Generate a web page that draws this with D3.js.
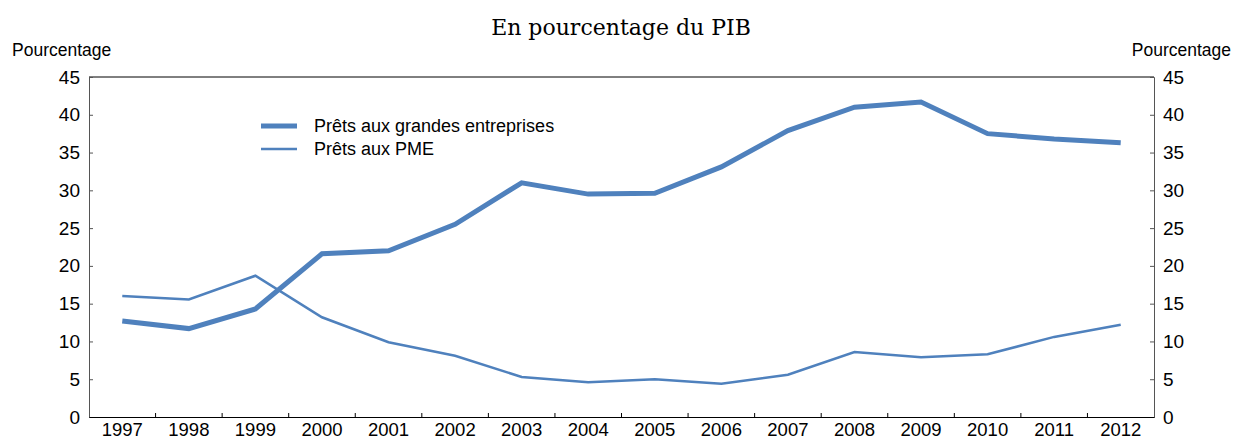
<!DOCTYPE html>
<html>
<head>
<meta charset="utf-8">
<script src="https://cdn.jsdelivr.net/npm/d3@7"></script>
<style>
  body { margin: 0; background: #fff; }
  svg text { font-family: "Liberation Sans", Arial, sans-serif; fill: #000; }
</style>
</head>
<body>
<svg id="chart" width="1233" height="441"></svg>
<script>
// data
var years = ["1997", "1998", "1999", "2000", "2001", "2002", "2003", "2004",
             "2005", "2006", "2007", "2008", "2009", "2010", "2011", "2012"];
var grandes = [12.7, 11.7, 14.3, 21.6, 22.0, 25.5, 31.0, 29.5,
               29.6, 33.1, 37.9, 41.0, 41.7, 37.5, 36.8, 36.3];
var pme = [16.0, 15.55, 18.7, 13.2, 9.9, 8.1, 5.3, 4.6,
           5.0, 4.4, 5.6, 8.6, 7.9, 8.3, 10.6, 12.2];
var yTicks = [0, 5, 10, 15, 20, 25, 30, 35, 40, 45];
var seriesNames = ["Prêts aux grandes entreprises", "Prêts aux PME"];

var blue = "#4f81bd";
var plotL = 89, plotR = 1154, plotT = 77, plotB = 417;

var svg = d3.select("#chart");

var x = d3.scaleBand().domain(years).range([plotL, plotR]);
var y = d3.scaleLinear().domain([0, 45]).range([plotB, plotT]);

// title
svg.append("text")
    .attr("x", 621).attr("y", 35)
    .attr("text-anchor", "middle")
    .style("font-family", "'DejaVu Serif', serif")
    .style("font-size", "22px")
    .text("En pourcentage du PIB");

svg.append("text").attr("x", 12).attr("y", 56)
    .style("font-size", "17.5px").text("Pourcentage");
svg.append("text").attr("x", 1231).attr("y", 56)
    .attr("text-anchor", "end")
    .style("font-size", "17.5px").text("Pourcentage");

// top border
svg.append("line")
    .attr("x1", plotL).attr("x2", plotR)
    .attr("y1", plotT).attr("y2", plotT)
    .attr("stroke", "#000").attr("stroke-width", 1);

// left axis
var yl = svg.append("g")
    .attr("transform", "translate(" + plotL + ",0)")
    .call(d3.axisRight(y).tickValues(yTicks).tickSize(4).tickFormat(d3.format("d")));
yl.selectAll("text").attr("x", -9).attr("text-anchor", "end")
    .style("font-size", "19px");

// right axis
var yr = svg.append("g")
    .attr("transform", "translate(" + plotR + ",0)")
    .call(d3.axisLeft(y).tickValues(yTicks).tickSize(4).tickFormat(d3.format("d")));
yr.selectAll("text").attr("x", 9).attr("text-anchor", "start")
    .style("font-size", "19px");

// bottom axis with ticks between categories
var xa = svg.append("g")
    .attr("transform", "translate(0," + plotB + ")")
    .call(d3.axisBottom(x).tickSize(0));
xa.selectAll("text").attr("y", 6).style("font-size", "18.5px");

var bounds = years.map(function (d) { return x(d); }).slice(1);
svg.selectAll(".xtick").data(bounds).enter().append("line")
    .attr("class", "xtick")
    .attr("x1", function (d) { return d; }).attr("x2", function (d) { return d; })
    .attr("y1", plotB).attr("y2", plotB - 4)
    .attr("stroke", "#000");

[yl, yr, xa].forEach(function (g) {
    g.selectAll("path, line").attr("stroke", "#555");
});
xa.select("path").attr("stroke", "#000");

var line = d3.line()
    .x(function (d, i) { return x(years[i]) + x.bandwidth() / 2; })
    .y(function (d) { return y(d); });

svg.append("path").datum(pme)
    .attr("d", line).attr("fill", "none")
    .attr("stroke", blue).attr("stroke-width", 2.5);

svg.append("path").datum(grandes)
    .attr("d", line).attr("fill", "none")
    .attr("stroke", blue).attr("stroke-width", 5);

// legend
var legend = svg.append("g");
var widths = [5, 2.5];
seriesNames.forEach(function (name, i) {
    var ly = 126 + i * 23;
    legend.append("line")
        .attr("x1", 261).attr("x2", 297)
        .attr("y1", ly).attr("y2", ly)
        .attr("stroke", blue).attr("stroke-width", widths[i]);
    legend.append("text")
        .attr("x", 314).attr("y", ly + 6)
        .style("font-size", "18px").text(name);
});
</script>
</body>
</html>
